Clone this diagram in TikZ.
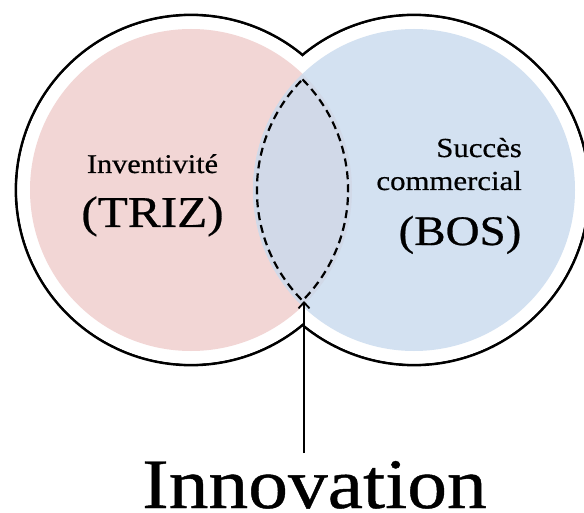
\documentclass[tikz,border=0pt]{standalone}
\usepackage{fontspec}
\setmainfont{Liberation Serif}[FakeStretch=1.12,FakeBold=0.6]
\usetikzlibrary{arrows.meta}
\definecolor{pinkfill}{RGB}{242,214,213}
\definecolor{bluefill}{RGB}{211,225,241}
\definecolor{lensfill}{RGB}{209,217,232}
\tikzset{
  outline/.style={line width=2.8pt, draw=black},
  lensline/.style={line width=2.2pt, dash pattern=on 8pt off 5pt},
  lbl/.style={inner sep=0pt, text=black, text depth=0pt},
  pointer/.style={line width=1.8pt, -{Straight Barb[length=6pt,width=11pt,line width=1.8pt]}}
}
\begin{document}
\begin{tikzpicture}[x=1pt,y=-1pt]
\useasboundingbox (0,0) rectangle (584,513);
\clip (0,0) rectangle (584,513);
\coordinate (cl) at (191,190);
\coordinate (cr) at (414,190);
% outer outline (union of two circles)
\draw[outline] (cl) circle[radius=175];
\draw[outline] (cr) circle[radius=175];
\fill[white] (cl) circle[radius=173.7];
\fill[white] (cr) circle[radius=173.7];
% coloured discs
\fill[pinkfill] (cl) circle[radius=161];
\fill[bluefill] (cr) circle[radius=161];
\begin{scope}
  \clip (cl) circle[radius=161];
  \fill[lensfill] (cr) circle[radius=161];
\end{scope}
% dashed lens
\coordinate (lenstop) at (302.5,79.4);
\draw[lensline] (lenstop) arc[start angle=-44.8,end angle=44.8,radius=157]
  arc[start angle=135.2,end angle=224.8,radius=157] -- cycle;
% labels
\node[lbl, anchor=base, font=\fontsize{27}{30}\selectfont] (inv) at (152.5,173) {Inventivité};
\node[lbl, anchor=base, font=\fontsize{44}{48}\selectfont] (triz) at (152.5,227) {(TRIZ)};
\node[lbl, anchor=base east, font=\fontsize{27.5}{30}\selectfont] (succ) at (522,157) {Succès};
\node[lbl, anchor=base east, font=\fontsize{27.5}{30}\selectfont] (comm) at (522,190) {commercial};
\node[lbl, anchor=base, font=\fontsize{42}{46}\selectfont] (bos) at (460,245) {(BOS)};
\node[lbl, anchor=base, font=\fontsize{71}{76}\selectfont] (innov) at (314.5,508) {Innovation};
% arrow
\coordinate (arrowfoot) at (304,453);
\coordinate (lensbottom) at (304,301);
\draw[pointer] (arrowfoot) -- (lensbottom);
\end{tikzpicture}
\end{document}
